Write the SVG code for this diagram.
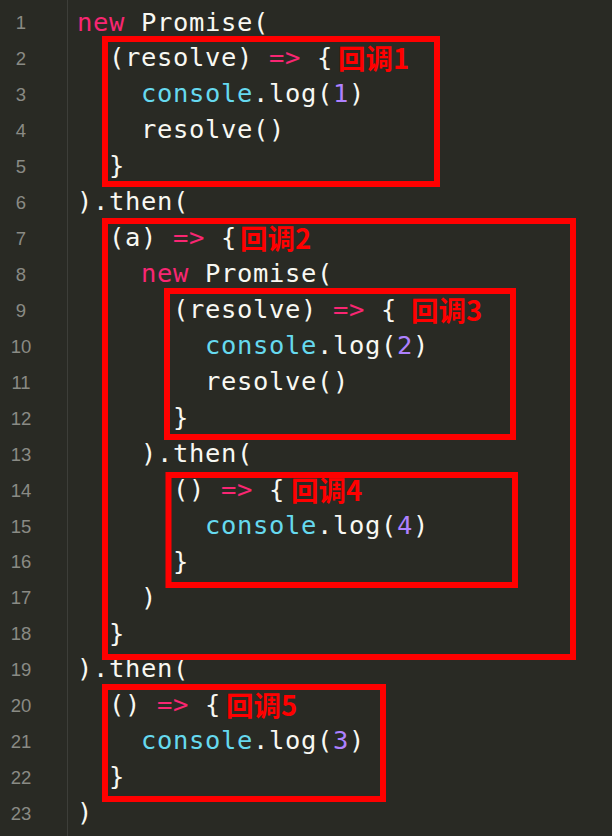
<svg xmlns="http://www.w3.org/2000/svg" width="612" height="836" viewBox="0 0 612 836">
<style>
.bg{fill:#292a24}
.gut{stroke:#3d3e39;stroke-width:1}
.ln{font-family:"Liberation Sans","DejaVu Sans",sans-serif;font-size:18.5px;fill:#8a8b85;text-anchor:middle}
.code{font-family:"DejaVu Sans Mono","Liberation Mono",monospace;font-size:25.5px;letter-spacing:0.65px;fill:#f8f8f2}
.kw{fill:#f92672}
.fn{fill:#66d9ef}
.num{fill:#ae81ff}
.box{fill:none;stroke:#ff0000;stroke-width:6}
.lbl{font-family:"Noto Sans CJK SC","Noto Sans",sans-serif;font-size:27.5px;font-weight:bold;fill:#ff0000}
</style>
<rect class="bg" x="0" y="0" width="612" height="836"/>
<line class="gut" x1="67.5" y1="0" x2="67.5" y2="836"/>
<g id="line-numbers">
<text class="ln" x="21" y="29.3">1</text>
<text class="ln" x="21" y="65.2">2</text>
<text class="ln" x="21" y="101.2">3</text>
<text class="ln" x="21" y="137.1">4</text>
<text class="ln" x="21" y="173.1">5</text>
<text class="ln" x="21" y="209">6</text>
<text class="ln" x="21" y="244.9">7</text>
<text class="ln" x="21" y="280.9">8</text>
<text class="ln" x="21" y="316.8">9</text>
<text class="ln" x="21" y="352.8">10</text>
<text class="ln" x="21" y="388.7">11</text>
<text class="ln" x="21" y="424.6">12</text>
<text class="ln" x="21" y="460.6">13</text>
<text class="ln" x="21" y="496.5">14</text>
<text class="ln" x="21" y="532.5">15</text>
<text class="ln" x="21" y="568.4">16</text>
<text class="ln" x="21" y="604.3">17</text>
<text class="ln" x="21" y="640.3">18</text>
<text class="ln" x="21" y="676.2">19</text>
<text class="ln" x="21" y="712.2">20</text>
<text class="ln" x="21" y="748.1">21</text>
<text class="ln" x="21" y="784">22</text>
<text class="ln" x="21" y="820">23</text>
</g>
<g id="code">
<text class="code" y="30.5"><tspan class="kw" x="77">new</tspan><tspan x="141">Promise(</tspan></text>
<text class="code" y="66.4"><tspan x="109">(resolve)</tspan><tspan class="kw" x="269">=&gt;</tspan><tspan x="317">{</tspan></text>
<text class="code" y="102.4"><tspan class="fn" x="141">console</tspan><tspan x="253">.log(</tspan><tspan class="num" x="333">1</tspan><tspan x="349">)</tspan></text>
<text class="code" y="138.3"><tspan x="141">resolve()</tspan></text>
<text class="code" y="174.3"><tspan x="109">}</tspan></text>
<text class="code" y="210.2"><tspan x="77">).then(</tspan></text>
<text class="code" y="246.1"><tspan x="109">(a)</tspan><tspan class="kw" x="173">=&gt;</tspan><tspan x="221">{</tspan></text>
<text class="code" y="282.1"><tspan class="kw" x="141">new</tspan><tspan x="205">Promise(</tspan></text>
<text class="code" y="318"><tspan x="173">(resolve)</tspan><tspan class="kw" x="333">=&gt;</tspan><tspan x="381">{</tspan></text>
<text class="code" y="354"><tspan class="fn" x="205">console</tspan><tspan x="317">.log(</tspan><tspan class="num" x="397">2</tspan><tspan x="413">)</tspan></text>
<text class="code" y="389.9"><tspan x="205">resolve()</tspan></text>
<text class="code" y="425.8"><tspan x="173">}</tspan></text>
<text class="code" y="461.8"><tspan x="141">).then(</tspan></text>
<text class="code" y="497.7"><tspan x="173">()</tspan><tspan class="kw" x="221">=&gt;</tspan><tspan x="269">{</tspan></text>
<text class="code" y="533.7"><tspan class="fn" x="205">console</tspan><tspan x="317">.log(</tspan><tspan class="num" x="397">4</tspan><tspan x="413">)</tspan></text>
<text class="code" y="569.6"><tspan x="173">}</tspan></text>
<text class="code" y="605.5"><tspan x="141">)</tspan></text>
<text class="code" y="641.5"><tspan x="109">}</tspan></text>
<text class="code" y="677.4"><tspan x="77">).then(</tspan></text>
<text class="code" y="713.4"><tspan x="109">()</tspan><tspan class="kw" x="157">=&gt;</tspan><tspan x="205">{</tspan></text>
<text class="code" y="749.3"><tspan class="fn" x="141">console</tspan><tspan x="253">.log(</tspan><tspan class="num" x="333">3</tspan><tspan x="349">)</tspan></text>
<text class="code" y="785.2"><tspan x="109">}</tspan></text>
<text class="code" y="821.2"><tspan x="77">)</tspan></text>
</g>
<g id="callback1">
<rect class="box" x="105" y="39" width="332" height="145"/>
<text class="lbl" x="338" y="69.4">回调1</text>
</g>
<g id="callback2">
<rect class="box" x="105" y="221" width="468" height="436"/>
<text class="lbl" x="240" y="249.1">回调2</text>
</g>
<g id="callback3">
<rect class="box" x="167" y="291" width="346" height="146"/>
<text class="lbl" x="411" y="321">回调3</text>
</g>
<g id="callback4">
<rect class="box" x="168.5" y="475" width="346.5" height="110"/>
<text class="lbl" x="291" y="500.7">回调4</text>
</g>
<g id="callback5">
<rect class="box" x="105" y="687" width="278" height="112"/>
<text class="lbl" x="226" y="716.4">回调5</text>
</g>
</svg>
